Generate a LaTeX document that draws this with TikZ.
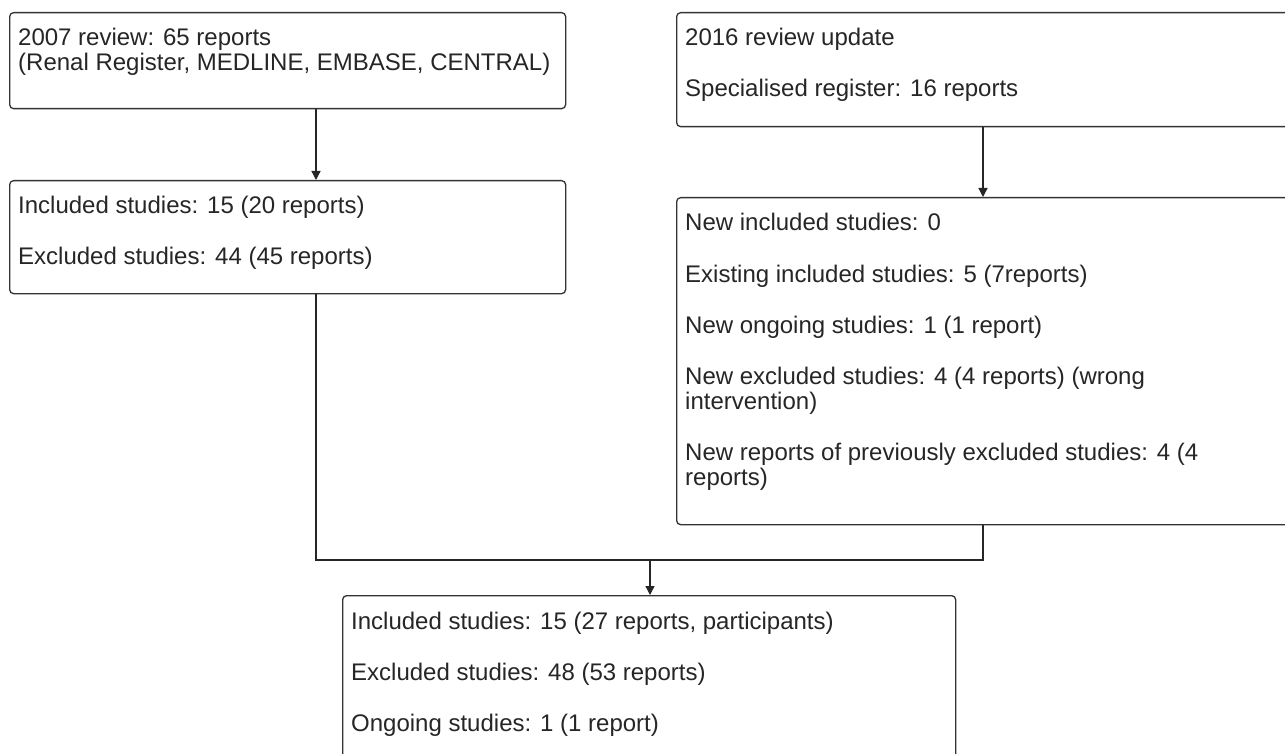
\documentclass[tikz,border=0pt]{standalone}
\usepackage{fontspec}
\setmainfont{Liberation Sans}
\usetikzlibrary{arrows.meta}
\begin{document}
\begin{tikzpicture}[x=1pt,y=-1pt,
  box/.style={draw=black!80, line width=1.3pt, rounded corners=4pt, anchor=north west, inner sep=0pt, fill=white},
  txt/.style={anchor=base west, inner sep=0pt, font=\fontsize{24}{25}\selectfont, text=black!85},
  arr/.style={draw=black!85, line width=1.3pt, -{Triangle[length=9pt,width=9pt]}},
  con/.style={draw=black!85, line width=1.3pt}]
\clip (0,0) rectangle (1285,754);
\fill[white] (0,0) rectangle (1285,754);
% boxes
\node[box, minimum width=556pt, minimum height=96pt] (A) at (9,12) {};
\node[box, minimum width=630pt, minimum height=114pt] (B) at (676,12) {};
\node[box, minimum width=556pt, minimum height=113pt] (C) at (9,180) {};
\node[box, minimum width=630pt, minimum height=327pt] (D) at (676,197) {};
\node[box, minimum width=613pt, minimum height=190pt] (E) at (342,595) {};
% texts
\node[txt] (a1) at ([shift={(9,34)}]A.north west) {2007 review: 65 reports};
\node[txt] (a2) at ([shift={(9,59)}]A.north west) {(Renal Register, MEDLINE, EMBASE, CENTRAL)};
\node[txt] (b1) at ([shift={(9,34)}]B.north west) {2016 review update};
\node[txt] (b2) at ([shift={(9,85)}]B.north west) {Specialised register: 16 reports};
\node[txt] (c1) at ([shift={(9,34)}]C.north west) {Included studies: 15 (20 reports)};
\node[txt] (c2) at ([shift={(9,85)}]C.north west) {Excluded studies: 44 (45 reports)};
\node[txt] (d1) at ([shift={(9,34)}]D.north west) {New included studies: 0};
\node[txt] (d2) at ([shift={(9,85)}]D.north west) {Existing included studies: 5 (7reports)};
\node[txt] (d3) at ([shift={(9,136)}]D.north west) {New ongoing studies: 1 (1 report)};
\node[txt] (d4) at ([shift={(9,187)}]D.north west) {New excluded studies: 4 (4 reports) (wrong};
\node[txt] (d5) at ([shift={(9,212)}]D.north west) {intervention)};
\node[txt] (d6) at ([shift={(9,263)}]D.north west) {New reports of previously excluded studies: 4 (4};
\node[txt] (d7) at ([shift={(9,288)}]D.north west) {reports)};
\node[txt] (e1) at ([shift={(9,34)}]E.north west) {Included studies: 15 (27 reports, participants)};
\node[txt] (e2) at ([shift={(9,85)}]E.north west) {Excluded studies: 48 (53 reports)};
\node[txt] (e3) at ([shift={(9,136)}]E.north west) {Ongoing studies: 1 (1 report)};
% connector guides
\coordinate (xl) at (316,0);
\coordinate (xr) at (983,0);
\coordinate (xm) at (650,0);
\coordinate (jy) at (0,560);
\draw[arr] (xl |- A.south) -- (xl |- C.north);
\draw[arr] (xr |- B.south) -- (xr |- D.north);
\draw[con] (xl |- C.south) -- (xl |- jy) -- (xr |- jy) -- (xr |- D.south);
\draw[arr] (xm |- jy) -- (xm |- E.north);
\end{tikzpicture}
\end{document}
